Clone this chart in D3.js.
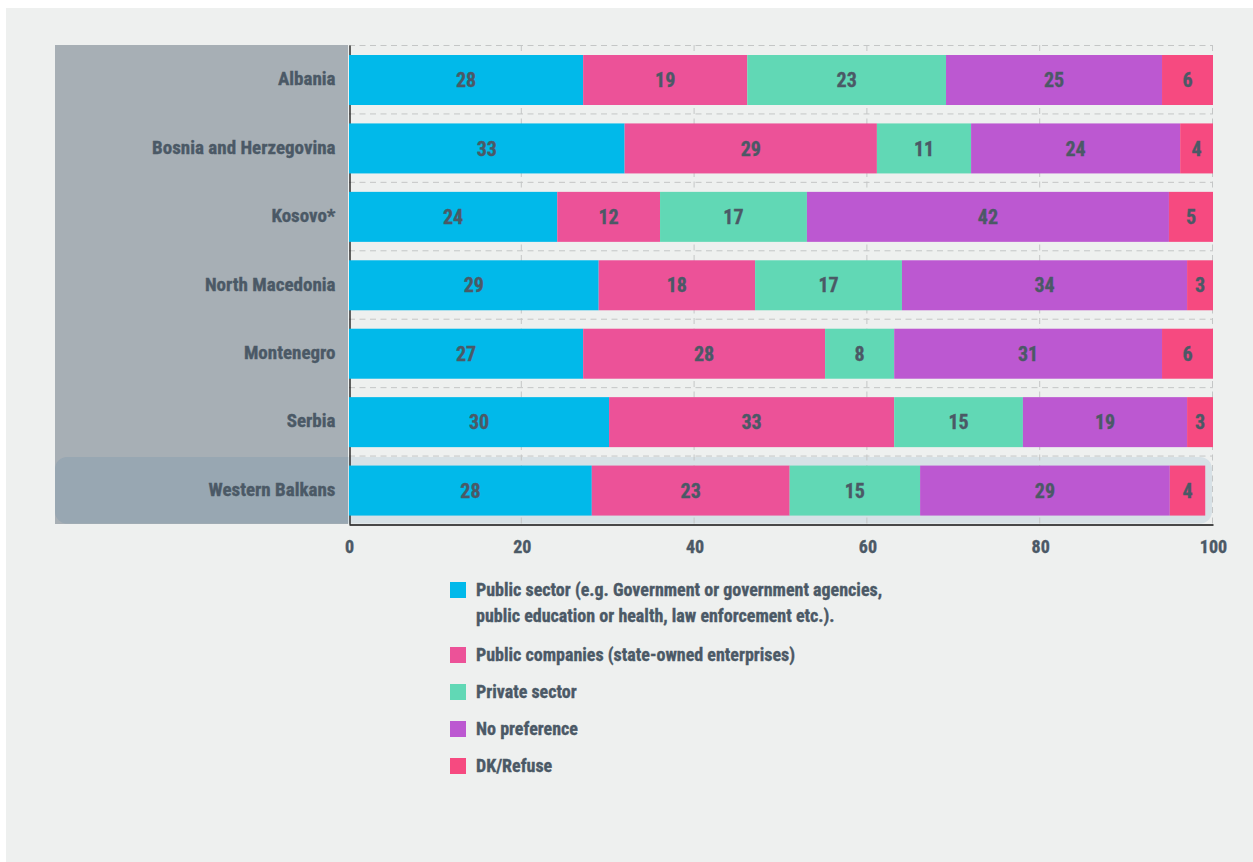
<!DOCTYPE html>
<html>
<head>
<meta charset="utf-8">
<script src="https://cdn.jsdelivr.net/npm/d3@7"></script>
<style>
    body { margin: 0; background: #ffffff; }
    text { font-family: "Liberation Sans Narrow", "Roboto Condensed", "DejaVu Sans Condensed", sans-serif; font-weight: bold; fill: #4b5966; stroke: #4b5966; stroke-width: 0.35px; }
</style>
</head>
<body>
<svg id="canvas"></svg>
<script>
const COUNTRIES = [
    "Albania",
    "Bosnia and Herzegovina",
    "Kosovo*",
    "North Macedonia",
    "Montenegro",
    "Serbia",
    "Western Balkans"
]

const SERIES = [
    ["Public sector (e.g. Government or government agencies,", "public education or health, law enforcement etc.)."],
    ["Public companies (state-owned enterprises)"],
    ["Private sector"],
    ["No preference"],
    ["DK/Refuse"]
]

const COLORS = ["#01b9ea", "#ec5298", "#61d8b5", "#bc58d1", "#f64a80"]

// segment widths
const PUBLIC_SECTOR = [27.1, 31.9, 24.1, 28.9, 27.1, 30.1, 28.1]
const PUBLIC_COMPANIES = [19.0, 29.2, 11.9, 18.1, 28.0, 33.0, 22.9]
const PRIVATE_SECTOR = [23.0, 10.9, 17.0, 17.0, 8.0, 14.9, 15.1]
const NO_PREFERENCE = [25.0, 24.2, 41.9, 33.0, 31.0, 19.0, 28.9]
const DK_REFUSE = [5.9, 3.8, 5.1, 3.0, 5.9, 3.0, 4.1]

// the numbers printed on the bars
const PUBLIC_SECTOR_LABELS = [28, 33, 24, 29, 27, 30, 28]
const PUBLIC_COMPANIES_LABELS = [19, 29, 12, 18, 28, 33, 23]
const PRIVATE_SECTOR_LABELS = [23, 11, 17, 17, 8, 15, 15]
const NO_PREFERENCE_LABELS = [25, 24, 42, 34, 31, 19, 29]
const DK_REFUSE_LABELS = [6, 4, 5, 3, 6, 3, 4]

const X_TICKS = [0, 20, 40, 60, 80, 100]

const VALUES = [PUBLIC_SECTOR, PUBLIC_COMPANIES, PRIVATE_SECTOR, NO_PREFERENCE, DK_REFUSE]
const LABELS = [PUBLIC_SECTOR_LABELS, PUBLIC_COMPANIES_LABELS, PRIVATE_SECTOR_LABELS, NO_PREFERENCE_LABELS, DK_REFUSE_LABELS]

const width = 1253;
const height = 862;
const plotLeft = 349;
const plotRight = 1213;
const plotTop = 45;
const plotBottom = 524;
const barOffset = 10;
const barHeight = 50;

const canvas = d3.select("#canvas")
    .attr("width", width)
    .attr("height", height)

//Background panel
canvas.append("rect")
    .attr("x", 6)
    .attr("y", 8)
    .attr("width", width - 6)
    .attr("height", height - 8)
    .attr("fill", "#eef0ef")

//Gray panel behind the country names
canvas.append("rect")
    .attr("x", 55)
    .attr("y", plotTop)
    .attr("width", plotLeft - 1 - 55)
    .attr("height", plotBottom - plotTop)
    .attr("fill", "#a7afb5")

const xScale = d3.scaleLinear()
    .domain([0, 100])
    .range([plotLeft, plotRight]);
const yScale = d3.scaleBand()
    .domain(COUNTRIES)
    .range([plotTop, plotBottom]);

//Highlight for the regional total
canvas.append("rect")
    .attr("x", 55)
    .attr("y", yScale("Western Balkans") + 1.5)
    .attr("width", plotRight - 1 - 55)
    .attr("height", plotBottom - yScale("Western Balkans") - 2)
    .attr("rx", 12)
    .attr("fill", "rgba(20, 100, 160, 0.1)")

//Grid lines
canvas.selectAll(".hgrid")
    .data(COUNTRIES)
    .enter()
    .append("line")
    .attr("class", "hgrid")
    .attr("x1", plotLeft)
    .attr("x2", plotRight)
    .attr("y1", d => yScale(d) + 0.5)
    .attr("y2", d => yScale(d) + 0.5)
    .attr("stroke", "#c4c6c6")
    .attr("stroke-dasharray", "6,4.5")

canvas.selectAll(".vgrid")
    .data(X_TICKS.slice(1))
    .enter()
    .append("line")
    .attr("class", "vgrid")
    .attr("x1", d => xScale(d) - 0.5)
    .attr("x2", d => xScale(d) - 0.5)
    .attr("y1", plotTop)
    .attr("y2", plotBottom)
    .attr("stroke", "#c4c6c6")
    .attr("stroke-dasharray", "6,4.5")

//Axes
const xAxis = d3.axisBottom(xScale)
    .tickValues(X_TICKS)
    .tickSize(0)
    .tickPadding(16);
const yAxis = d3.axisLeft(yScale)
    .tickSize(0)
    .tickPadding(14);

const xAxisG = canvas.append("g")
    .attr("transform", `translate(0, ${plotBottom + 0.5})`)
    .call(xAxis);
const yAxisG = canvas.append("g")
    .attr("transform", `translate(${plotLeft + 0.5}, 0)`)
    .call(yAxis);

[xAxisG, yAxisG].forEach(g => {
    g.select(".domain").attr("stroke", "#111").attr("stroke-width", 1.3);
    g.selectAll("text").attr("fill", "#4b5966").style("font-size", "18px");
});
yAxisG.selectAll("text").style("font-size", "19px");

//Stacked bars
const rows = COUNTRIES.map((c, i) => {
    let start = 0;
    return VALUES.map((series, s) => {
        const seg = { country: c, series: s, x0: start, x1: start + series[i], label: LABELS[s][i] };
        start += series[i];
        return seg;
    });
}).flat();

canvas.selectAll(".bar")
    .data(rows)
    .enter()
    .append("rect")
    .attr("class", "bar")
    .attr("x", d => xScale(d.x0))
    .attr("y", d => yScale(d.country) + barOffset)
    .attr("width", d => xScale(d.x1) - xScale(d.x0))
    .attr("height", barHeight)
    .attr("fill", d => COLORS[d.series])

canvas.selectAll(".bar-label")
    .data(rows)
    .enter()
    .append("text")
    .attr("class", "bar-label")
    .attr("x", d => (xScale(d.x0) + xScale(d.x1)) / 2)
    .attr("y", d => yScale(d.country) + barOffset + barHeight / 2)
    .attr("dy", "0.36em")
    .attr("text-anchor", "middle")
    .style("font-size", "20px")
    .text(d => d.label)

//Legend
const LEGEND_Y = [582, 647, 684, 721, 758];

const legend = canvas.selectAll(".legend")
    .data(SERIES)
    .enter()
    .append("g")
    .attr("class", "legend")
    .attr("transform", (d, i) => `translate(450, ${LEGEND_Y[i]})`)

legend.append("rect")
    .attr("width", 16)
    .attr("height", 16)
    .attr("fill", (d, i) => COLORS[i])

legend.append("text")
    .attr("x", 26)
    .attr("y", 14)
    .style("font-size", "18px")
    .selectAll("tspan")
    .data(d => d)
    .enter()
    .append("tspan")
    .attr("x", 26)
    .attr("dy", (d, i) => i === 0 ? 0 : 26)
    .text(d => d)
</script>
</body>
</html>
